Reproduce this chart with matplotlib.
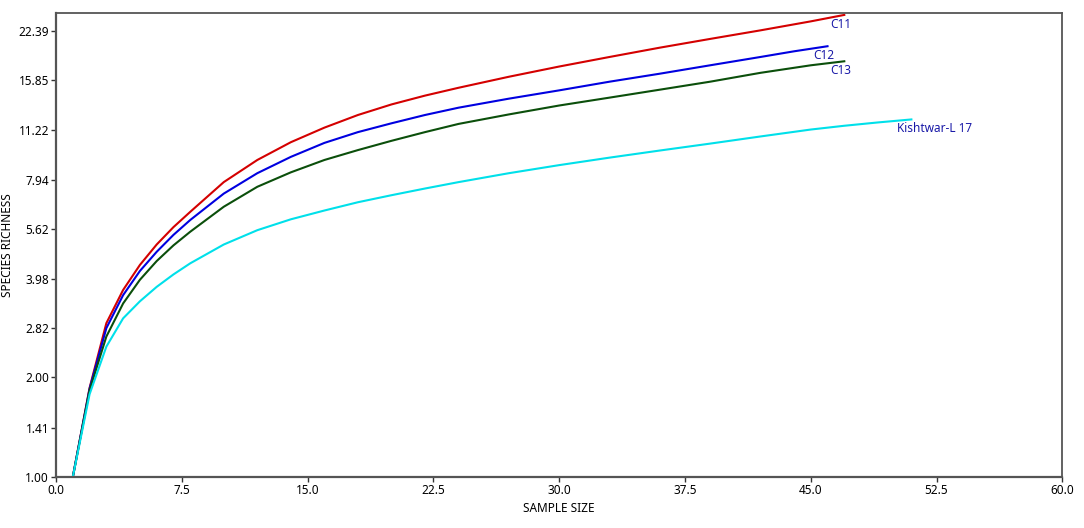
import numpy as np
import matplotlib
matplotlib.use("Agg")
import matplotlib.pyplot as plt

### Data
c11_n = [1, 2, 3, 4, 5, 6, 7, 8, 10, 12, 14, 16, 18, 20, 22, 24, 27, 30, 33, 36, 39, 42, 45, 47]
c11_s = [1.00, 1.86, 2.92, 3.68, 4.38, 5.05, 5.70, 6.34, 7.80, 9.10, 10.30, 11.40, 12.45, 13.40,
         14.25, 15.05, 16.25, 17.45, 18.65, 19.90, 21.15, 22.45, 23.90, 25.00]

c12_n = [1, 2, 3, 4, 5, 6, 7, 8, 10, 12, 14, 16, 18, 20, 22, 24, 27, 30, 33, 36, 39, 42, 44, 46]
c12_s = [1.00, 1.85, 2.82, 3.55, 4.20, 4.80, 5.40, 5.99, 7.20, 8.30, 9.30, 10.25, 11.05, 11.75,
         12.45, 13.10, 13.95, 14.78, 15.70, 16.60, 17.60, 18.65, 19.40, 20.10]

c13_n = [1, 2, 3, 4, 5, 6, 7, 8, 10, 12, 14, 16, 18, 20, 22, 24, 27, 30, 33, 36, 39, 42, 45, 47]
c13_s = [1.00, 1.83, 2.66, 3.35, 3.95, 4.50, 5.02, 5.52, 6.57, 7.55, 8.35, 9.10, 9.75, 10.40,
         11.05, 11.70, 12.50, 13.30, 14.05, 14.85, 15.70, 16.70, 17.60, 18.10]

kis_n = [1, 2, 3, 4, 5, 6, 7, 8, 10, 12, 14, 16, 18, 20, 22, 24, 27, 30, 33, 36, 39, 42, 45, 47, 49, 51]
kis_s = [1.00, 1.78, 2.48, 3.02, 3.40, 3.76, 4.10, 4.43, 5.05, 5.58, 6.02, 6.40, 6.78, 7.12,
         7.46, 7.80, 8.30, 8.78, 9.25, 9.72, 10.20, 10.72, 11.25, 11.55, 11.82, 12.07]

names = ["C11", "C12", "C13", "Kishtwar-L 17"]
colors = ["#d40000", "#0000e0", "#0b4f0b", "#00e0ea"]

x_ticks = [0, 7.5, 15, 22.5, 30, 37.5, 45, 52.5, 60]
y_ticks = [1.00, 1.41, 2.00, 2.82, 3.98, 5.62, 7.94, 11.22, 15.85, 22.39]

plt.rcParams["font.family"] = ["Noto Sans", "DejaVu Sans"]
fig = plt.figure(figsize=(10.84, 5.28), dpi=100)
ax = fig.add_axes([0.0517, 0.0966, 0.9283, 0.8784])

### Curves
series = [(c11_n, c11_s), (c12_n, c12_s), (c13_n, c13_s), (kis_n, kis_s)]
for (n, s), name, col in zip(series, names, colors):
    ax.plot(n, s, color=col, lw=1.5, solid_joinstyle="round")
    ax.annotate(name, xy=(n[-1], s[-1]), xytext=(-10, -2), textcoords="offset points",
                ha="left", va="top", fontsize=8.5, color="#1a1aa8")

### Axes
ax.set_yscale("log")
ax.set_xlim(0, 60)
ax.set_ylim(1.0, 25.3)
ax.set_xticks(x_ticks)
ax.set_xticklabels(["%.1f" % t for t in x_ticks])
ax.set_yticks(y_ticks)
ax.set_yticklabels(["%.2f" % t for t in y_ticks])
ax.yaxis.set_minor_locator(matplotlib.ticker.NullLocator())
ax.tick_params(axis="both", direction="out", length=3.5, width=1, color="#333333",
               labelsize=8.5, pad=1.5)
ax.set_xlabel("SAMPLE SIZE", fontsize=8.5, labelpad=4)
ax.set_ylabel("SPECIES RICHNESS", fontsize=8.5, labelpad=3)

for side in ["left", "bottom"]:
    ax.spines[side].set_linewidth(1.6)
    ax.spines[side].set_color("#555555")
for side in ["top", "right"]:
    ax.spines[side].set_linewidth(1.3)
    ax.spines[side].set_color("#555555")

plt.savefig("out.png", dpi=100)
